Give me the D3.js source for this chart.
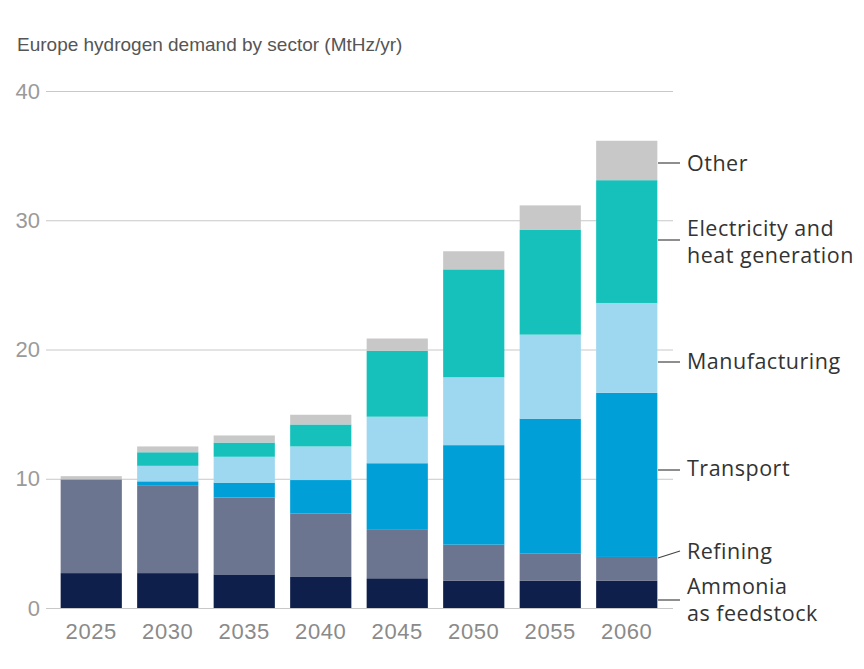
<!DOCTYPE html>
<html>
<head>
<meta charset="utf-8">
<script src="https://cdn.jsdelivr.net/npm/d3@7"></script>
<style>
  body { margin: 0; background: #fff; }
</style>
</head>
<body>
<div id="chart"></div>
<script>
var years = ["2025", "2030", "2035", "2040", "2045", "2050", "2055", "2060"];
var sectors = ["Ammonia", "Refining", "Transport", "Manufacturing", "Electricity", "Other"];
var ammonia       = [2.7, 2.7, 2.6, 2.4, 2.3, 2.1, 2.1, 2.1];
var refining      = [7.25, 6.8, 5.95, 4.9, 3.8, 2.8, 2.1, 1.85];
var transport     = [0, 0.3, 1.15, 2.6, 5.1, 7.7, 10.45, 12.7];
var manufacturing = [0, 1.2, 2.0, 2.6, 3.6, 5.25, 6.5, 6.95];
var electricity   = [0, 1.05, 1.1, 1.7, 5.1, 8.35, 8.1, 9.5];
var other         = [0.25, 0.45, 0.55, 0.75, 0.95, 1.4, 1.9, 3.05];
var yTicks = [0, 10, 20, 30, 40];
var colors = ["#0f1f4b", "#6c7590", "#009fd8", "#9dd8f0", "#17c1bb", "#c8c8c8"];

var width = 864, height = 669;

var rows = years.map(function (y, i) {
    return {
        year: y,
        Ammonia: ammonia[i],
        Refining: refining[i],
        Transport: transport[i],
        Manufacturing: manufacturing[i],
        Electricity: electricity[i],
        Other: other[i]
    };
});

var series = d3.stack().keys(sectors)(rows);

var x = d3.scaleBand()
    .domain(years)
    .range([53, 665])
    .paddingInner(0.2)
    .paddingOuter(0.1);

var y = d3.scaleLinear()
    .domain([0, 40])
    .range([608, 91]);

var color = d3.scaleOrdinal().domain(sectors).range(colors);

var svg = d3.select("#chart").append("svg")
    .attr("width", width)
    .attr("height", height)
    .style("font-family", "'Open Sans', Lato, sans-serif");

// title
svg.append("text")
    .attr("x", 17)
    .attr("y", 51)
    .attr("fill", "#555")
    .style("font-family", "'Liberation Sans', Arial, sans-serif")
    .style("font-size", "19px")
    .text("Europe hydrogen demand by sector (MtHz/yr)");

// gridlines + y labels
var yAxis = svg.append("g")
    .attr("transform", "translate(46,0)")
    .call(d3.axisLeft(y).tickValues(yTicks).tickSize(-627).tickPadding(6).tickFormat(d3.format("d")));
yAxis.select(".domain").remove();
yAxis.selectAll(".tick line").attr("stroke", "#c8c8c8").attr("stroke-width", 1);
yAxis.selectAll(".tick text")
    .attr("fill", "#9a9a9a")
    .style("font-size", "22px");

// bars
svg.append("g").selectAll("g")
    .data(series)
    .enter().append("g")
    .attr("fill", function (d) { return color(d.key); })
    .selectAll("rect")
    .data(function (d) { return d; })
    .enter().append("rect")
    .attr("x", function (d) { return x(d.data.year); })
    .attr("y", function (d) { return y(d[1]); })
    .attr("height", function (d) { return y(d[0]) - y(d[1]); })
    .attr("width", x.bandwidth());

// x labels
var xAxis = svg.append("g")
    .attr("transform", "translate(0,608)")
    .call(d3.axisBottom(x).tickSize(0).tickPadding(15));
xAxis.select(".domain").remove();
xAxis.selectAll(".tick text")
    .attr("fill", "#8a8a8a")
    .style("font-size", "22px")
    .style("letter-spacing", "0.6px");

// legend labels with leader lines
var legend = [
    { lines: ["Other"], y1: 163, y2: 163, ty: 163 },
    { lines: ["Electricity and", "heat generation"], y1: 240, y2: 240, ty: 228 },
    { lines: ["Manufacturing"], y1: 362, y2: 362, ty: 361 },
    { lines: ["Transport"], y1: 470, y2: 470, ty: 468 },
    { lines: ["Refining"], y1: 558, y2: 551, ty: 551 },
    { lines: ["Ammonia", "as feedstock"], y1: 600, y2: 600, ty: 586 }
];

var lg = svg.append("g").selectAll("g")
    .data(legend)
    .enter().append("g");

lg.append("line")
    .attr("x1", 658)
    .attr("x2", 680)
    .attr("y1", function (d) { return d.y1; })
    .attr("y2", function (d) { return d.y2; })
    .attr("stroke", "#444")
    .attr("stroke-width", 1.2);

lg.append("text")
    .attr("x", 687)
    .attr("fill", "#333")
    .style("font-size", "21.5px")
    .style("letter-spacing", "0.5px")
    .each(function (d) {
        var t = d3.select(this);
        d.lines.forEach(function (l, i) {
            t.append("tspan")
                .attr("x", 687)
                .attr("y", d.ty + i * 27)
                .attr("dy", "0.35em")
                .text(l);
        });
    });
</script>
</body>
</html>
